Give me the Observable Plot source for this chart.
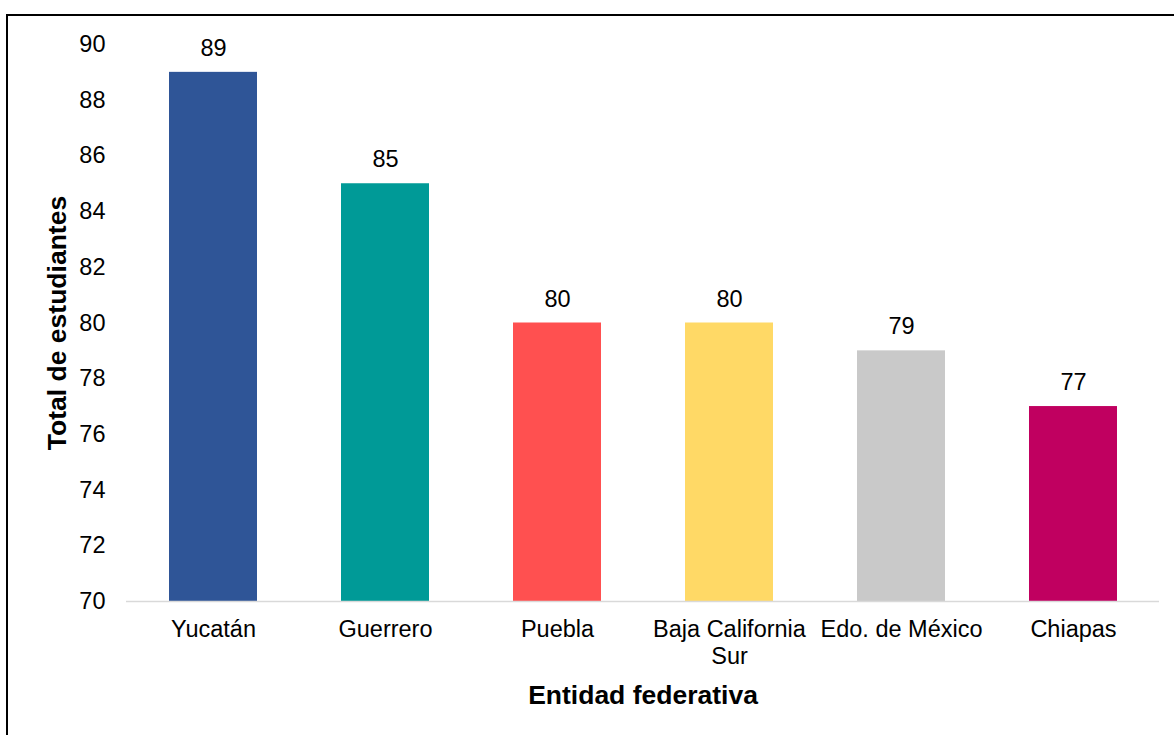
<!DOCTYPE html>
<html>
<head>
<meta charset="utf-8">
<script src="https://cdn.jsdelivr.net/npm/d3@7"></script>
<script src="https://cdn.jsdelivr.net/npm/@observablehq/plot@0.6"></script>
<style>
  html, body { margin: 0; padding: 0; background: #fff; overflow: hidden; }
  #wrap { position: relative; width: 1174px; height: 735px; overflow: hidden; }
  #frame { position: absolute; left: 6px; top: 14px; width: 1174px; height: 735px; border: 2px solid #000; box-sizing: border-box; pointer-events: none; }
  #chart { position: absolute; left: 0; top: 0; }
</style>
</head>
<body>
<div id="wrap">
  <div id="chart"></div>
  <div id="frame"></div>
</div>
<script>
const categories = ["Yucatán", "Guerrero", "Puebla", "Baja California Sur", "Edo. de México", "Chiapas"];
const tickLabels = ["Yucatán", "Guerrero", "Puebla", "Baja California\nSur", "Edo. de México", "Chiapas"];
const values = [89, 85, 80, 80, 79, 77];
const colors = ["#2f5597", "#009a97", "#ff5050", "#ffd966", "#c9c9c9", "#c00060"];
const yTicks = [70, 72, 74, 76, 78, 80, 82, 84, 86, 88, 90];
const yTitle = "Total de estudiantes";
const xTitle = "Entidad federativa";

const data = categories.map((c, i) => ({name: c, value: values[i]}));
const font = "'Liberation Sans', Arial, sans-serif";

const chart = Plot.plot({
  width: 1174,
  height: 735,
  marginLeft: 126,
  marginRight: 15,
  marginTop: 44,
  marginBottom: 134,
  style: {fontFamily: font, fontSize: "23.5px", color: "#000", background: "transparent"},
  x: {domain: categories, paddingInner: 0.49, paddingOuter: 0.245, label: null},
  y: {domain: [70, 90], label: null},
  color: {domain: categories, range: colors},
  marks: [
    Plot.barY(data, {x: "name", y1: 70, y2: "value", fill: "name"}),
    Plot.ruleY([70], {stroke: "#d9d9d9", strokeWidth: 1.5}),
    Plot.text(data, {x: "name", y: "value", text: d => String(d.value), dy: -24, fontSize: 23.5, fill: "#000"}),
    Plot.axisY({ticks: yTicks, tickSize: 0, tickPadding: 21, fontSize: 23.5, label: null}),
    Plot.axisX({tickSize: 0, tickPadding: 16, fontSize: 23.5, lineHeight: 1.15, label: null,
      tickFormat: d => tickLabels[categories.indexOf(d)]}),
    Plot.text([yTitle], {frameAnchor: "left", dx: -69, rotate: -90, textAnchor: "middle", lineAnchor: "middle", text: d => d, fontSize: 26.5, fontWeight: "bold", fill: "#000"}),
    Plot.text([xTitle], {frameAnchor: "bottom", dy: 94, textAnchor: "middle", lineAnchor: "middle", text: d => d, fontSize: 26.5, fontWeight: "bold", fill: "#000"})
  ]
});
document.getElementById("chart").appendChild(chart);
</script>
</body>
</html>
